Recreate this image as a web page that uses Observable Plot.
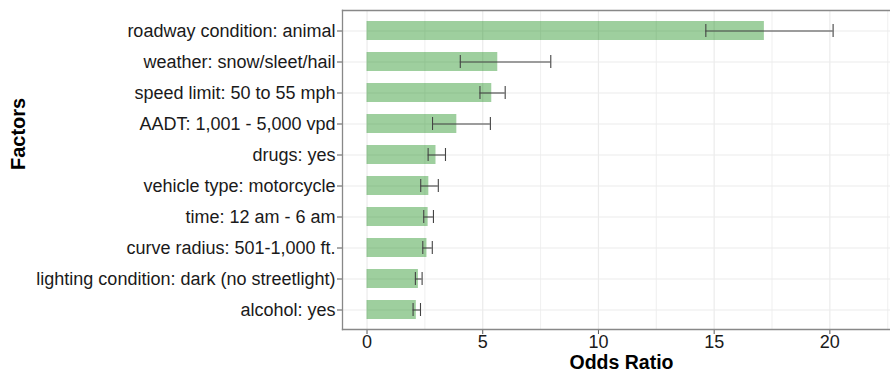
<!DOCTYPE html>
<html>
<head>
<meta charset="utf-8">
<script src="https://cdn.jsdelivr.net/npm/d3@7"></script>
<script src="https://cdn.jsdelivr.net/npm/@observablehq/plot@0.6"></script>
<style>
  html, body { margin: 0; padding: 0; background: #fff; }
  svg { font-family: "Liberation Sans", Arial, sans-serif; }
</style>
</head>
<body>
<div id="chart"></div>
<script>
const factors = [
  "roadway condition: animal",
  "weather: snow/sleet/hail",
  "speed limit: 50 to 55 mph",
  "AADT: 1,001 - 5,000 vpd",
  "drugs: yes",
  "vehicle type: motorcycle",
  "time: 12 am - 6 am",
  "curve radius: 501-1,000 ft.",
  "lighting condition: dark (no streetlight)",
  "alcohol: yes"
];
const oddsRatio = [17.17, 5.65, 5.39, 3.88, 2.98, 2.67, 2.64, 2.59, 2.22, 2.13];
const lower     = [14.64, 4.03, 4.88, 2.83, 2.64, 2.32, 2.45, 2.41, 2.09, 1.99];
const upper     = [20.14, 7.94, 5.97, 5.33, 3.39, 3.08, 2.87, 2.82, 2.38, 2.31];
const xTicks = [0, 5, 10, 15, 20];
const xMinor = [2.5, 7.5, 12.5, 17.5, 22.5];

const data = factors.map((f, i) => ({factor: f, or: oddsRatio[i], lo: lower[i], hi: upper[i]}));

const chart = Plot.plot({
  width: 890,
  height: 370,
  marginLeft: 342,
  marginRight: 0,
  marginTop: 10,
  marginBottom: 41,
  style: {fontFamily: "Liberation Sans, Arial, sans-serif", background: "#fff"},
  x: {domain: [-1.06, 22.62], label: null},
  y: {type: "band", domain: factors, paddingInner: 0.4, paddingOuter: 0.3, label: null},
  marks: [
    Plot.gridX(xMinor, {stroke: "#ebebeb", strokeOpacity: 1, strokeWidth: 0.8}),
    Plot.gridX(xTicks, {stroke: "#ebebeb", strokeOpacity: 1, strokeWidth: 1.2}),
    Plot.gridY({stroke: "#ebebeb", strokeOpacity: 1, strokeWidth: 1.2}),
    Plot.barX(data, {x: "or", y: "factor", fill: "green", fillOpacity: 0.38}),
    Plot.ruleY(data, {y: "factor", x1: "lo", x2: "hi", stroke: "#444", strokeWidth: 1.1}),
    Plot.tickX(data, {x: "lo", y: "factor", stroke: "#444", strokeWidth: 1.1, insetTop: 3, insetBottom: 3}),
    Plot.tickX(data, {x: "hi", y: "factor", stroke: "#444", strokeWidth: 1.1, insetTop: 3, insetBottom: 3}),
    Plot.axisX(xTicks, {tickSize: 5, tickPadding: 1, fontSize: 18, fill: "#1a1a1a", stroke: "#555", label: null}),
    Plot.axisY({tickSize: 5, tickPadding: 2, fontSize: 18, fill: "#1a1a1a", stroke: "#555", label: null}),
    Plot.frame({anchor: "left", stroke: "#888", strokeWidth: 1.3}),
    Plot.frame({anchor: "top", stroke: "#888", strokeWidth: 1.3}),
    Plot.frame({anchor: "bottom", stroke: "#888", strokeWidth: 1.3}),
    Plot.text(["Odds Ratio"], {frameAnchor: "bottom", lineAnchor: "middle", dx: 5, dy: 33, text: d => d, fontSize: 19.5, fontWeight: "bold", fill: "#000"}),
    Plot.text(["Factors"], {frameAnchor: "left", lineAnchor: "middle", dx: -324, rotate: -90, text: d => d, fontSize: 20, fontWeight: "bold", fill: "#000"})
  ]
});
document.getElementById("chart").appendChild(chart);
</script>
</body>
</html>
